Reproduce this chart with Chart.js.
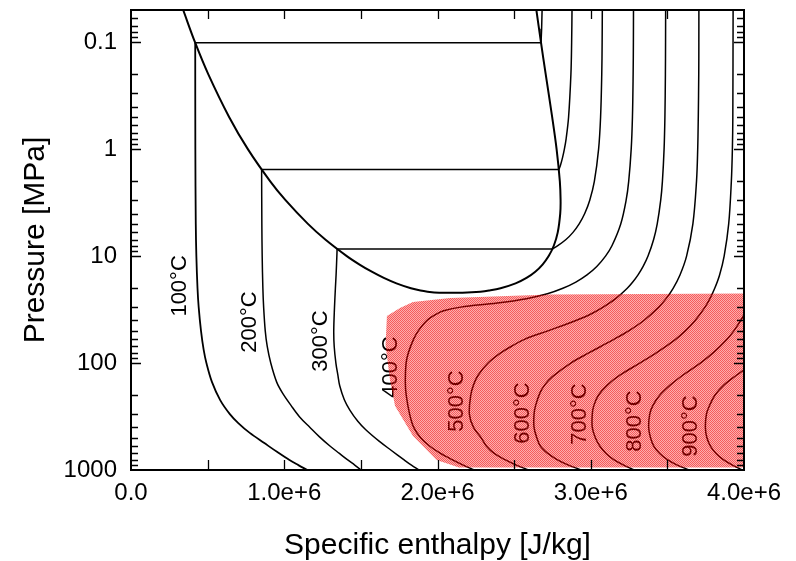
<!DOCTYPE html>
<html>
<head>
<meta charset="utf-8">
<title>Water p-h diagram</title>
<script src="https://cdn.jsdelivr.net/npm/chart.js@4.4.0/dist/chart.umd.min.js"></script>
<style>
  html, body { margin: 0; padding: 0; background: #fff; }
</style>
</head>
<body>
<canvas id="phChart" width="796" height="561"></canvas>
<script>
// pairs are [pressure MPa, enthalpy kJ/kg]
const domeLiquid = [[0.05, 340.5], [0.1, 417.5], [0.2, 504.7], [0.5, 640.1], [1, 762.5], [2, 908.5], [3, 1008.3],
  [5, 1154.5], [7, 1267.7], [10, 1408.1], [12, 1491.5], [14, 1571.0], [16, 1649.7], [18, 1732.0], [20, 1826.6],
  [21, 1888.6], [21.5, 1935], [22, 2011], [22.064, 2087.5]];
const domeVapour = [[22.064, 2087.5], [22, 2163], [21.5, 2280], [21, 2336], [20, 2411.4], [18, 2509.5], [16, 2580.8],
  [14, 2638.1], [12, 2685.4], [10, 2725.5], [8, 2758.7], [6, 2784.6], [4, 2800.8], [3, 2803.2], [2, 2798.3],
  [1, 2777.1], [0.5, 2748.1], [0.2, 2706.2], [0.1, 2675.0], [0.05, 2645.2]];

// saturation tie lines: [psat, hf, hg]
const tieLines = [[0.1014, 419.1, 2675.6], [1.5536, 852.4, 2792.0], [8.5879, 1344.8, 2749.6]];

const iso100Liquid = [[0.1014, 419.1], [1, 419.9], [5, 422.7], [10, 426.5], [20, 434.0], [30, 441.6], [50, 456.8],
  [75, 474], [100, 492], [150, 528], [222, 582], [300, 645], [364, 700], [450, 775], [560, 870], [680, 955],
  [807, 1034], [900, 1092], [1000, 1151]];
const iso100Vapour = [[0.05, 2682.5], [0.075, 2679.5], [0.1014, 2675.6]];

const iso200Liquid = [[1.5536, 852.4], [5, 853.8], [10, 856.0], [20, 860.5], [30, 865.5], [50, 876], [70, 889],
  [100, 912], [150, 950], [190, 988], [250, 1045], [317, 1099], [400, 1168], [490, 1230], [600, 1300],
  [700, 1360], [800, 1412], [900, 1460], [1000, 1502]];
const iso200Vapour = [[0.05, 2877.7], [0.1, 2875.3], [0.2, 2870.5], [0.5, 2855.4], [0.8, 2839.3], [1, 2827.9],
  [1.2, 2815.9], [1.4, 2803.3], [1.5536, 2792.0]];

const iso300Liquid = [[8.5879, 1344.8], [10, 1343.3], [15, 1338.2], [20, 1333.7], [30, 1327.9], [50, 1323.0],
  [70, 1326], [100, 1337], [130, 1350], [163, 1362], [220, 1392], [275, 1428], [350, 1480], [420, 1532],
  [540, 1621], [650, 1695], [800, 1780], [900, 1830], [1000, 1880]];
const iso300Vapour = [[0.05, 3075.5], [0.1, 3074.3], [0.2, 3071.8], [0.5, 3064.2], [1, 3051.2], [2, 3023.5],
  [3, 2993.5], [4, 2960.7], [5, 2924.5], [6, 2884.2], [7, 2838.4], [8, 2785.0], [8.5879, 2749.6]];

const iso400 = [[0.05, 3278.9], [0.1, 3278.2], [0.2, 3276.6], [0.5, 3272.1], [1, 3263.9], [2, 3247.6], [3, 3230.9],
  [5, 3195.7], [8, 3138.3], [10, 3096.5], [12.5, 3039.3], [15, 2975.5], [17.5, 2902.9], [20, 2818.1],
  [22.5, 2717], [25, 2580.2], [27.5, 2390], [30, 2151.1], [32.5, 2040], [35, 1990], [40, 1930.9], [50, 1874.6],
  [60, 1843.4], [80, 1810], [100, 1795], [150, 1790], [200, 1796], [300, 1818], [400, 1845], [500, 1890],
  [600, 1950], [700, 2020], [800, 2095], [900, 2168], [1000, 2241]];
const iso500 = [[0.05, 3488.7], [0.1, 3488.1], [0.2, 3487.1], [0.5, 3483.9], [1, 3478.5], [2, 3467.6], [3, 3456.5],
  [5, 3433.8], [7, 3410.3], [10, 3373.7], [12.5, 3341.8], [15, 3308.6], [17.5, 3274.1], [20, 3238.2],
  [25, 3162.4], [30, 3081.1], [35, 2997.9], [40, 2903.3], [50, 2720.1], [60, 2567.9], [70, 2480], [80, 2415],
  [100, 2330], [130, 2265], [160, 2235], [200, 2217], [300, 2208], [400, 2235], [500, 2285], [600, 2320],
  [700, 2370], [800, 2440], [900, 2515], [1000, 2595]];
const iso600 = [[0.05, 3705.6], [0.1, 3705.4], [0.2, 3704.7], [0.5, 3701.7], [1, 3697.9], [2, 3690.1], [5, 3666.5],
  [10, 3625.3], [15, 3582.3], [20, 3537.6], [25, 3491.4], [30, 3443.9], [40, 3346.4], [50, 3247.6], [60, 3151.2],
  [70, 3065], [80, 2990], [100, 2870], [134, 2750], [160, 2700], [191, 2668], [250, 2640], [300, 2630],
  [400, 2630], [500, 2648], [600, 2672], [700, 2720], [800, 2780], [900, 2855], [1000, 2940]];
const iso700 = [[0.05, 3928.9], [0.5, 3927.1], [1, 3924.2], [2, 3917.4], [5, 3900.1], [10, 3870.5], [15, 3840.7],
  [20, 3809.0], [25, 3777.6], [30, 3745.7], [40, 3681.2], [50, 3616.8], [60, 3553.5], [80, 3430], [100, 3320],
  [130, 3190], [160, 3110], [200, 3050], [250, 3020], [300, 3010], [400, 3010], [500, 3030], [600, 3060],
  [700, 3100], [800, 3150], [900, 3215], [1000, 3285]];
const iso800 = [[20, 4069.8], [25, 4047.1], [30, 4024.2], [40, 3978.7], [50, 3933.6], [60, 3889.1], [80, 3800],
  [100, 3715], [130, 3600], [160, 3520], [200, 3450], [250, 3405], [300, 3385], [400, 3378], [500, 3390],
  [600, 3412], [700, 3450], [800, 3500], [900, 3565], [1000, 3643]];
const iso900 = [[40, 4257.9], [60, 4191.5], [80, 4125], [100, 4060], [116, 4000], [130, 3950], [160, 3870],
  [200, 3810], [250, 3775], [300, 3755], [400, 3748], [500, 3758], [600, 3782], [700, 3818], [800, 3865],
  [900, 3925], [1000, 3990]];

// shaded supercritical zone outline
const redZone = [[22.4, 4000], [22.9, 2734], [23.8, 2408], [24.7, 2082], [26.9, 1840], [30.6, 1755], [36.3, 1670],
  [67.8, 1661], [144, 1690], [252, 1723], [481, 1840], [807, 1994], [948, 2140], [948, 4000]];

// isotherm names, anchored at [pressure MPa, enthalpy kJ/kg]
const labelText = ['100°C', '200°C', '300°C', '400°C', '500°C', '600°C', '700°C', '800°C', '900°C'];
const labelAt = [[19.0, 320], [41.3, 776], [62.2, 1240], [108.9, 1697], [226.4, 2127], [293.2, 2558],
  [299.6, 2930], [348.3, 3289], [387.9, 3654]];

const xTickValues = [0, 1e6, 2e6, 3e6, 4e6];
const xTickLabels = ['0.0', '1.0e+6', '2.0e+6', '3.0e+6', '4.0e+6'];
const xTickMarks = [0.5e6, 1e6, 1.5e6, 2e6, 2.5e6, 3e6, 3.5e6];
const yTickValues = [0.1, 1, 10, 100, 1000];
const yTickLabels = ['0.1', '1', '10', '100', '1000'];

const FONT = '"Liberation Sans", Arial, Helvetica, sans-serif';

const toPts = arr => arr.map(([p, h]) => ({ x: h * 1000, y: p }));

function curve(arr, width, tension) {
  return {
    data: toPts(arr),
    showLine: true,
    borderColor: '#000',
    borderWidth: width,
    pointRadius: 0,
    tension: tension,
    fill: false
  };
}

// dithered red fill
function zonePattern() {
  const c = document.createElement('canvas');
  c.width = 2; c.height = 2;
  const g = c.getContext('2d');
  g.fillStyle = 'rgba(240,0,0,0.64)';
  g.fillRect(0, 0, 1, 1); g.fillRect(1, 1, 1, 1);
  g.fillStyle = 'rgba(250,0,0,0.32)';
  g.fillRect(1, 0, 1, 1); g.fillRect(0, 1, 1, 1);
  return g.createPattern(c, 'repeat');
}

const W = 1.5;
const datasets = [
  curve(domeLiquid.concat(domeVapour.slice(1)), 2, 0.35),
  ...tieLines.map(([p, hf, hg]) => curve([[p, hf], [p, hg]], W, 0)),
  curve(iso100Liquid, 1.8, 0.35), curve(iso100Vapour, W, 0),
  curve(iso200Liquid, W, 0.35), curve(iso200Vapour, W, 0.35),
  curve(iso300Liquid, W, 0.35), curve(iso300Vapour, W, 0.35),
  curve(iso400, W, 0.35), curve(iso500, W, 0.35), curve(iso600, W, 0.35),
  curve(iso700, W, 0.35), curve(iso800, W, 0.35), curve(iso900, W, 0.35),
  {
    data: toPts(redZone),
    showLine: true,
    borderWidth: 0,
    borderColor: 'rgba(0,0,0,0)',
    pointRadius: 0,
    tension: 0,
    fill: 'shape',
    backgroundColor: zonePattern(),
    order: -1
  }
];

const phDecor = {
  id: 'phDecor',
  beforeDatasetsDraw(chart) {
    const { ctx, scales: { x, y } } = chart;
    ctx.save();
    ctx.font = '22px ' + FONT;
    ctx.fillStyle = '#000';
    ctx.textAlign = 'center';
    ctx.textBaseline = 'middle';
    labelText.forEach((t, i) => {
      ctx.save();
      ctx.translate(x.getPixelForValue(labelAt[i][1] * 1000), y.getPixelForValue(labelAt[i][0]));
      ctx.rotate(-Math.PI / 2);
      ctx.fillText(t, 0, 0);
      ctx.restore();
    });
    ctx.restore();
  },
  afterDraw(chart) {
    const { ctx, chartArea: { left, right, top, bottom }, scales: { x, y } } = chart;
    ctx.save();
    ctx.strokeStyle = '#000';
    ctx.lineWidth = 1.3;
    ctx.beginPath();
    xTickMarks.forEach(v => {
      const px = Math.round(x.getPixelForValue(v)) + 0.5;
      ctx.moveTo(px, bottom); ctx.lineTo(px, bottom - 10);
      ctx.moveTo(px, top); ctx.lineTo(px, top + 9);
    });
    for (let e = -2; e <= 3; e++) {
      for (let m = 1; m <= 9; m++) {
        const v = m * Math.pow(10, e);
        if (v <= y.min * 1.001 || v >= y.max * 0.999) continue;
        const py = Math.round(y.getPixelForValue(v)) + 0.5;
        const len = m === 1 ? 10 : 7;
        ctx.moveTo(left, py); ctx.lineTo(left + len, py);
        ctx.moveTo(right, py); ctx.lineTo(right - len, py);
      }
    }
    ctx.stroke();
    ctx.lineWidth = 2;
    ctx.strokeRect(left, top, right - left, bottom - top);
    ctx.restore();
  }
};

const chart = new Chart(document.getElementById('phChart'), {
  type: 'scatter',
  data: { datasets },
  options: {
    responsive: false,
    animation: false,
    layout: { padding: { top: 10, right: 52, bottom: 0, left: 0 } },
    plugins: { legend: { display: false }, tooltip: { enabled: false } },
    scales: {
      x: {
        type: 'linear',
        min: 0,
        max: 4e6,
        grid: { display: false, drawTicks: false },
        border: { display: false },
        afterBuildTicks: s => { s.ticks = xTickValues.map(v => ({ value: v })); },
        afterFit: s => { s.height = 91; s.paddingLeft = 0; s.paddingRight = 0; },
        ticks: {
          autoSkip: false,
          maxRotation: 0,
          padding: 9,
          color: '#000',
          font: { family: FONT, size: 24 },
          callback: (v, i) => xTickLabels[i]
        },
        title: {
          display: true,
          text: 'Specific enthalpy [J/kg]',
          color: '#000',
          padding: 0,
          font: { family: FONT, size: 30, lineHeight: 1 }
        }
      },
      y: {
        type: 'logarithmic',
        reverse: true,
        min: 0.05,
        max: 1000,
        grid: { display: false, drawTicks: false },
        border: { display: false },
        afterBuildTicks: s => { s.ticks = yTickValues.map(v => ({ value: v })); },
        afterFit: s => { s.width = 131; s.paddingTop = 0; s.paddingBottom = 0; },
        ticks: {
          autoSkip: false,
          padding: 14,
          color: '#000',
          font: { family: FONT, size: 24 },
          callback: (v, i) => yTickLabels[i]
        },
        title: {
          display: true,
          text: 'Pressure [MPa]',
          color: '#000',
          padding: { top: 18, bottom: 0 },
          font: { family: FONT, size: 30, lineHeight: 1.2 }
        }
      }
    }
  },
  plugins: [phDecor]
});
</script>
</body>
</html>
